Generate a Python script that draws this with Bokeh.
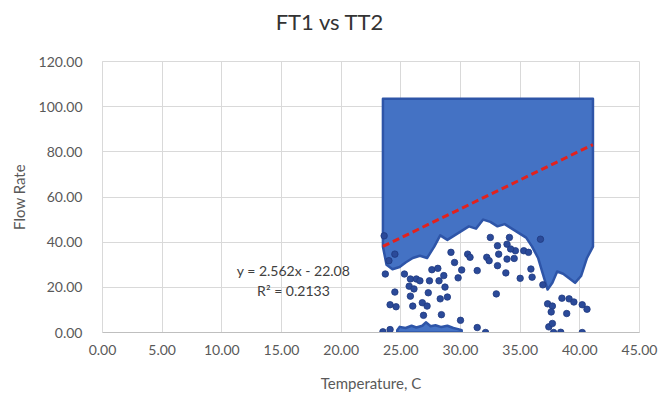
from bokeh.plotting import figure
from bokeh.models import Range1d, FixedTicker, NumeralTickFormatter, Label, Div
from bokeh.layouts import column
from bokeh.embed import file_html
from bokeh.resources import INLINE

# ---- data ----
x_ticks = [0, 5, 10, 15, 20, 25, 30, 35, 40, 45]
y_ticks = [0, 20, 40, 60, 80, 100, 120]

# dense cloud of points: upper limit and lower envelope (x ascending)
block_top = 103.5
env_x = [23.5, 23.8, 24.3, 24.9, 25.4, 26.0, 26.6, 27.2, 27.8, 28.3, 28.9, 29.5,
         30.1, 30.7, 31.3, 31.9, 32.5, 33.1, 33.7, 34.3, 34.9, 35.5, 36.0, 36.5,
         36.9, 37.3, 37.7, 38.1, 38.6, 39.1, 39.6, 40.1, 40.6, 41.1]
env_y = [38, 30, 28, 29, 31, 33, 34, 33, 38, 43, 41, 43,
         45, 47, 46, 50, 49, 47, 48, 46, 44, 42, 38, 33,
         26, 19, 22, 27, 26, 24, 22, 25, 33, 38]

# dense cluster near zero flow
cluster_x = [24.7, 24.9, 25.4, 25.9, 26.3, 26.8, 27.1, 27.5, 27.9, 28.4, 28.9, 29.4, 29.8, 30.1, 30.1, 24.7]
cluster_y = [1.0, 2.5, 2.0, 3.0, 2.2, 3.0, 4.5, 2.8, 3.2, 2.4, 3.0, 2.0, 1.5, 1.0, 0.0, 0.0]

# scattered individual points
pts_x = [23.5, 24.1, 23.7, 24.1, 24.6, 24.5, 25.3, 25.8, 25.7, 25.8, 26.0, 26.1,
         26.3, 26.6, 26.8, 26.9, 27.2, 27.3, 27.4, 27.6, 28.1, 28.2, 28.3, 28.4,
         28.6, 28.7, 28.9, 29.8, 30.0, 30.1, 30.6, 30.8, 31.4, 31.4, 32.1, 32.2,
         32.4, 32.5, 33.0, 33.1, 33.2, 33.1, 33.8, 33.9, 33.9, 34.1, 34.5, 34.6,
         35.0, 35.3, 35.7, 36.0, 35.9, 36.9, 37.3, 37.7, 37.6, 37.4, 37.7, 37.8,
         38.5, 38.4, 39.1, 39.5, 38.9, 40.2, 40.6, 40.2, 23.6, 24.0, 24.5, 29.2,
         29.5, 34.2, 36.7]
pts_y = [0.3, 1.3, 25.9, 12.3, 11.4, 17.9, 25.9, 23.7, 20.5, 16.1, 11.7, 19.3,
         23.7, 22.9, 13.2, 7.6, 11.7, 17.6, 22.9, 27.8, 28.4, 22.9, 14.9, 7.9,
         25.2, 20.1, 15.7, 24.2, 5.4, 27.7, 34.7, 33.3, 27.4, 2.2, 0.0, 33.3,
         31.8, 42.1, 17.1, 38.4, 34.7, 29.6, 26.4, 39.1, 32.5, 42.1, 32.8, 36.2,
         24.0, 36.2, 35.5, 24.5, 28.1, 21.1, 12.7, 11.7, 9.1, 2.5, 4.0, 0.0,
         15.2, 0.1, 14.9, 13.5, 8.4, 12.3, 10.3, 0.0, 42.8, 31.8, 34.7, 35.5,
         31.0, 37.0, 41.3]

trend_x = [23.5, 41.1]
trend_y = [38.1, 83.2]
eq_lines = ["y = 2.562x - 22.08", "R² = 0.2133"]
title_text = "FT1 vs TT2"

FONT = "Lato"
TXT = "#595959"

title = Div(text=title_text, width=659, height=44, margin=0,
            styles={"font-family": FONT, "font-size": "22px", "color": "#333333",
                    "text-align": "center", "line-height": "44px", "width": "659px"})

p = figure(width=659, height=350, output_backend="svg", toolbar_location=None,
           x_range=Range1d(0, 45), y_range=Range1d(0, 120),
           min_border_left=102, min_border_right=20, min_border_top=17, min_border_bottom=60,
           background_fill_color="white", border_fill_color="white", margin=0)
p.outline_line_color = "#d9d9d9"

for ax in (p.xaxis[0], p.yaxis[0]):
    ax.formatter = NumeralTickFormatter(format="0.00")
    ax.major_tick_line_color = None
    ax.minor_tick_line_color = None
    ax.axis_line_color = "#bfbfbf"
    ax.major_label_text_font = FONT
    ax.major_label_text_font_size = "14px"
    ax.major_label_text_color = TXT
    ax.axis_label_text_font = FONT
    ax.axis_label_text_font_size = "15px"
    ax.axis_label_text_font_style = "normal"
    ax.axis_label_text_color = TXT

p.xaxis[0].ticker = FixedTicker(ticks=x_ticks)
p.yaxis[0].ticker = FixedTicker(ticks=y_ticks)
p.xaxis[0].axis_label = "Temperature, C"
p.yaxis[0].axis_label = "Flow Rate"
p.xaxis[0].major_label_standoff = 6
p.xaxis[0].axis_label_standoff = 16
p.yaxis[0].major_label_standoff = 14
p.yaxis[0].axis_label_standoff = 8
p.yaxis[0].axis_line_color = "#d9d9d9"

p.xgrid.ticker = FixedTicker(ticks=x_ticks)
p.ygrid.ticker = FixedTicker(ticks=y_ticks)
p.xgrid.grid_line_color = "#d9d9d9"
p.ygrid.grid_line_color = "#d9d9d9"

# dense cloud
bx = env_x + [env_x[-1], env_x[0]]
by = env_y + [block_top, block_top]
p.patch(bx, by, fill_color="#4472C4", line_color="#2E55A8", line_width=2.5, line_join="round")
p.patch(cluster_x, cluster_y, fill_color="#4472C4", line_color="#2E55A8", line_width=2.5, line_join="round")

p.scatter(pts_x, pts_y, size=6.5, fill_color="#2B4A99", line_color="#1F3A80", line_width=0.8)

p.line(trend_x, trend_y, line_color="#E3211C", line_width=3, line_dash="7 4")

p.add_layout(Label(x=16.0, y=27.3, text=eq_lines[0], text_align="center", text_baseline="middle",
                   text_font=FONT, text_font_size="14px", text_color="#404040"))
p.add_layout(Label(x=16.0, y=18.5, text=eq_lines[1], text_align="center", text_baseline="middle",
                   text_font=FONT, text_font_size="14px", text_color="#404040"))

layout = column(title, p, spacing=0, margin=0)
open("out.html", "w").write(file_html(layout, INLINE))
